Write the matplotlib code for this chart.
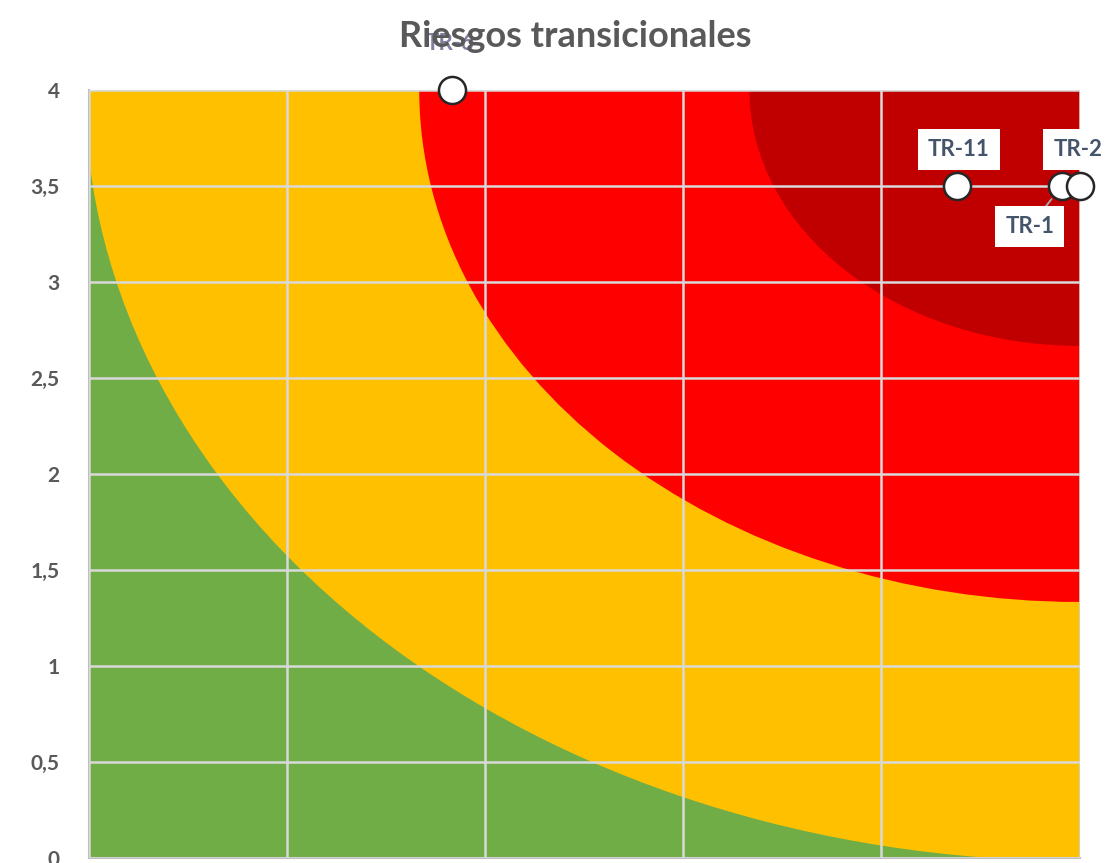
#risk matrix for transitional risks, zones drawn as quarter ellipses from the top right corner

import matplotlib
matplotlib.use('Agg')
import matplotlib.pyplot as plt
from matplotlib.patches import Wedge
from matplotlib.ticker import FuncFormatter

risk_ids = ['TR-6', 'TR-11', 'TR-1', 'TR-2']
impact = [1.83, 4.38, 4.91, 5.0]
probability = [4.0, 3.5, 3.5, 3.5]

# zone radii as fraction of the axes, measured from the top right corner
zone_radii = [1.004, 2 / 3, 1 / 3]
zone_colors = ['#FFC000', '#FF0000', '#C00000']
base_color = '#70AD47'

yticks = [0, 0.5, 1, 1.5, 2, 2.5, 3, 3.5, 4]
xticks = [0, 1, 2, 3, 4, 5]

plt.rcParams['font.family'] = ['Lato', 'DejaVu Sans']
txt_color = '#595959'

fig = plt.figure(figsize=(11.13, 8.63), dpi=100)
ax = fig.add_axes([0.080, 0.0058, 0.890, 0.890])
ax.set_facecolor(base_color)

for r, c in zip(zone_radii, zone_colors):
    ax.add_patch(Wedge((1, 1), r, 180, 270, transform=ax.transAxes,
                       facecolor=c, edgecolor='none', zorder=0.5))

ax.set_xlim(0, 5)
ax.set_ylim(0, 4)
ax.set_xticks(xticks)
ax.set_yticks(yticks)
ax.yaxis.set_major_formatter(FuncFormatter(lambda v, p: ('%g' % v).replace('.', ',')))
ax.tick_params(length=0, pad=21, labelsize=15, labelcolor=txt_color)
for lab in ax.get_yticklabels():
    lab.set_fontweight('bold')
ax.set_xticklabels([])

ax.set_axisbelow(False)
ax.grid(True, color='#D9D9D9', linewidth=1.8, zorder=2)
for s in ['top', 'right']:
    ax.spines[s].set_visible(False)
for s in ['left', 'bottom']:
    ax.spines[s].set_color('#BFBFBF')
    ax.spines[s].set_linewidth(1.5)

ax.scatter(impact, probability, s=380, facecolor='white', edgecolor='#262626',
           linewidth=1.8, zorder=5, clip_on=False)

# label offsets in pixels (dx, dy, boxed?)
offsets = {'TR-6': (-2, 46, False), 'TR-11': (2, 36, True),
           'TR-1': (-32, -41, True), 'TR-2': (-2, 36, True)}
for name, x, y in zip(risk_ids, impact, probability):
    dx, dy, boxed = offsets[name]
    bbox = dict(boxstyle='square,pad=0.45', fc='white', ec='none') if boxed else None
    arrow = dict(arrowstyle='-', color='#A6A6A6', lw=1.4, shrinkA=0, shrinkB=12) if name == 'TR-1' else None
    ax.annotate(name, (x, y), xytext=(dx, dy), textcoords='offset pixels',
                ha='center', va='center', fontsize=16, fontweight='bold',
                color='#44546A' if name != 'TR-6' else '#7F7F9F',
                bbox=bbox, arrowprops=arrow, zorder=6, annotation_clip=False)

fig.text(0.517, 0.958, 'Riesgos transicionales', ha='center', va='center',
         fontsize=26, fontweight='bold', color=txt_color, zorder=10)

plt.savefig('out.png', dpi=100)
